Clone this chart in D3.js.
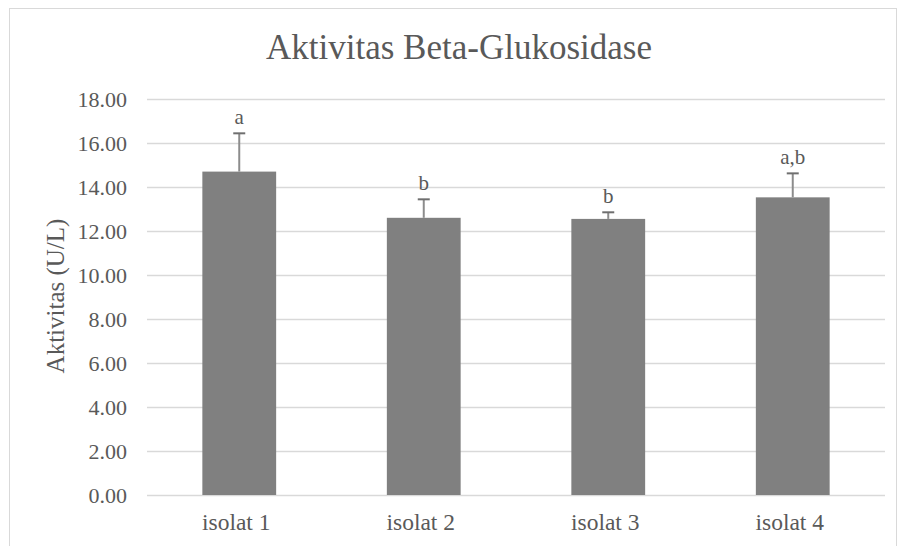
<!DOCTYPE html>
<html>
<head>
<meta charset="utf-8">
<script src="https://cdn.jsdelivr.net/npm/d3@7"></script>
<style>
  body { margin: 0; background: #fff; }
  svg { display: block; }
  svg text { font-family: "Liberation Serif", "Times New Roman", serif; fill: #595959; }
</style>
</head>
<body>
<div id="chart"></div>
<script>
// Data
const categories = ["isolat 1", "isolat 2", "isolat 3", "isolat 4"]
const means = [14.70, 12.60, 12.55, 13.53]
const errors = [1.74, 0.84, 0.30, 1.09]
const letters = ["a", "b", "b", "a,b"]
const yTicks = [0, 2, 4, 6, 8, 10, 12, 14, 16, 18]

const W = 899, H = 546
const margin = { top: 99, right: 14, bottom: 51, left: 147 }
const width = W - margin.left - margin.right
const height = H - margin.top - margin.bottom

const svg = d3.select("#chart").append("svg")
  .attr("width", W)
  .attr("height", H)

// Chart area border
svg.append("rect")
  .attr("x", 9.5).attr("y", 8.5)
  .attr("width", W - 12).attr("height", H + 10)
  .attr("fill", "none")
  .attr("stroke", "#d9d9d9")

const g = svg.append("g")
  .attr("transform", `translate(${margin.left},${margin.top})`)

const x = d3.scaleBand()
  .domain(categories)
  .range([0, width])
  .paddingInner(0.6)
  .paddingOuter(0.3)

const y = d3.scaleLinear()
  .domain([0, 18])
  .range([height, 0])

// Gridlines
g.selectAll(".grid")
  .data(yTicks)
  .enter()
  .append("line")
  .attr("x1", 0).attr("x2", width)
  .attr("y1", d => Math.round(y(d)) + 0.5)
  .attr("y2", d => Math.round(y(d)) + 0.5)
  .attr("stroke", "#d9d9d9")
  .attr("stroke-width", 1.3)

// Y axis labels
const yAxis = g.append("g")
  .call(d3.axisLeft(y).tickValues(yTicks).tickFormat(d3.format(".2f")).tickSize(0).tickPadding(20))
yAxis.select(".domain").remove()
yAxis.selectAll("text")
  .style("font-family", "'Liberation Serif', serif")
  .style("font-size", "22px")
  .style("fill", "#595959")

// X axis labels
const xAxis = g.append("g")
  .attr("transform", `translate(0,${height})`)
  .call(d3.axisBottom(x).tickSize(0).tickPadding(18))
xAxis.select(".domain").remove()
xAxis.selectAll("text")
  .attr("dx", -3)
  .style("font-family", "'Liberation Serif', serif")
  .style("font-size", "23.5px")
  .style("fill", "#595959")

// Bars
g.selectAll(".bar")
  .data(categories)
  .enter()
  .append("rect")
  .attr("class", "bar")
  .attr("x", d => x(d))
  .attr("y", (d, i) => y(means[i]))
  .attr("width", x.bandwidth())
  .attr("height", (d, i) => height - y(means[i]))
  .attr("fill", "#808080")

// Error bars (upper only)
g.selectAll(".err")
  .data(categories)
  .enter()
  .append("line")
  .attr("x1", d => x(d) + x.bandwidth() / 2)
  .attr("x2", d => x(d) + x.bandwidth() / 2)
  .attr("y1", (d, i) => y(means[i]))
  .attr("y2", (d, i) => y(means[i] + errors[i]))
  .attr("stroke", "#8c8c8c")
  .attr("stroke-width", 2)

g.selectAll(".cap")
  .data(categories)
  .enter()
  .append("line")
  .attr("x1", d => x(d) + x.bandwidth() / 2 - 6)
  .attr("x2", d => x(d) + x.bandwidth() / 2 + 6)
  .attr("y1", (d, i) => y(means[i] + errors[i]))
  .attr("y2", (d, i) => y(means[i] + errors[i]))
  .attr("stroke", "#6f6f6f")
  .attr("stroke-width", 2)

// Significance letters
g.selectAll(".letter")
  .data(categories)
  .enter()
  .append("text")
  .attr("x", d => x(d) + x.bandwidth() / 2)
  .attr("y", (d, i) => y(means[i] + errors[i]) - 9)
  .attr("text-anchor", "middle")
  .style("font-size", "21px")
  .text((d, i) => letters[i])

// Title
svg.append("text")
  .attr("x", 459)
  .attr("y", 59)
  .attr("text-anchor", "middle")
  .style("font-size", "35px")
  .text("Aktivitas Beta-Glukosidase")

// Y axis title
svg.append("text")
  .attr("transform", `translate(64,296) rotate(-90)`)
  .attr("text-anchor", "middle")
  .style("font-size", "25px")
  .text("Aktivitas (U/L)")
</script>
</body>
</html>
